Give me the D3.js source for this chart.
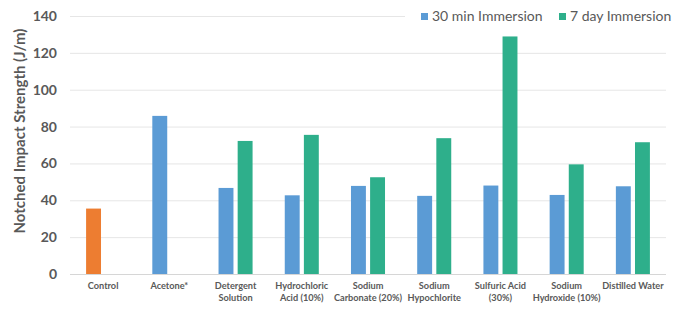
<!DOCTYPE html>
<html>
<head>
<meta charset="utf-8">
<script src="https://cdn.jsdelivr.net/npm/d3@7"></script>
<style>
  body { margin: 0; background: #fff; }
  svg { display: block; font-family: Lato, "Open Sans", sans-serif; }
</style>
</head>
<body>
<script>
var width = 687,
    height = 313,
    margin = {top: 16, right: 21, bottom: 39, left: 70};

// data
var categories = [
  ["Control"], ["Acetone*"], ["Detergent", "Solution"], ["Hydrochloric", "Acid (10%)"],
  ["Sodium", "Carbonate (20%)"], ["Sodium", "Hypochlorite"], ["Sulfuric Acid", "(30%)"],
  ["Sodium", "Hydroxide (10%)"], ["Distilled Water"]
];
var seriesNames = ["30 min Immersion", "7 day Immersion"];
var min30 = [35.5, 85.8, 46.7, 42.7, 47.8, 42.4, 48.0, 42.9, 47.6];
var day7 = [null, null, 72.2, 75.5, 52.5, 73.7, 128.9, 59.5, 71.5];
var yTicks = [0, 20, 40, 60, 80, 100, 120, 140];

var colors = ["#5B9BD5", "#2EAF8B"],
    controlColor = "#ED7D31";

var svg = d3.select("body").append("svg")
    .attr("width", width)
    .attr("height", height);

var keys = categories.map(function(c) { return c.join(" "); });

var x0 = d3.scaleBand()
    .domain(keys)
    .range([margin.left, width - margin.right])
    .paddingInner(0.486)
    .paddingOuter(0.243);

var x1 = d3.scaleBand()
    .domain(seriesNames)
    .range([0, x0.bandwidth()])
    .paddingInner(0.22);

var y = d3.scaleLinear()
    .domain([0, 140])
    .range([274, 16]);

// gridlines
svg.append("g").selectAll("line")
    .data(yTicks)
  .enter().append("line")
    .attr("x1", margin.left)
    .attr("x2", function(d) { return d === 140 ? 405 : width - margin.right; })
    .attr("y1", function(d) { return y(d) + 0.5; })
    .attr("y2", function(d) { return y(d) + 0.5; })
    .attr("stroke", function(d) { return d === 0 ? "#D6D6D6" : "#E6E6E6"; })
    .attr("stroke-width", 1);

// y tick labels
var yAxis = svg.append("g")
    .attr("transform", "translate(" + (margin.left - 13) + ",0)")
    .call(d3.axisLeft(y).tickValues(yTicks).tickSize(0).tickPadding(0));
yAxis.select(".domain").remove();
yAxis.selectAll("text")
    .attr("fill", "#595959")
    .style("font-size", "14px")
    .style("font-weight", "bold")
    .style("font-family", "Lato, sans-serif");

// y axis title
svg.append("text")
    .attr("transform", "translate(25," + 131 + ") rotate(-90)")
    .attr("text-anchor", "middle")
    .attr("fill", "#595959")
    .style("font-size", "15px")
    .style("font-weight", "bold")
    .text("Notched Impact Strength (J/m)");

// bars
var rows = keys.map(function(k, i) {
  return {key: k, values: [
    {series: seriesNames[0], value: min30[i], color: i === 0 ? controlColor : colors[0]},
    {series: seriesNames[1], value: day7[i], color: colors[1]}
  ]};
});

var groups = svg.append("g").selectAll("g")
    .data(rows)
  .enter().append("g")
    .attr("transform", function(d) { return "translate(" + x0(d.key) + ",0)"; });

groups.selectAll("rect")
    .data(function(d) { return d.values.filter(function(v) { return v.value != null; }); })
  .enter().append("rect")
    .attr("x", function(d) { return x1(d.series); })
    .attr("width", x1.bandwidth())
    .attr("y", function(d) { return y(d.value); })
    .attr("height", function(d) { return y(0) - y(d.value); })
    .attr("fill", function(d) { return d.color; });

// x labels
var xl = svg.append("g").selectAll("text")
    .data(categories)
  .enter().append("text")
    .attr("x", function(d, i) { return x0(keys[i]) + x0.bandwidth() / 2; })
    .attr("y", 289)
    .attr("text-anchor", "middle")
    .attr("fill", "#595959")
    .style("font-size", "9.2px")
    .style("font-weight", "bold");
xl.selectAll("tspan")
    .data(function(d) { return d; })
  .enter().append("tspan")
    .attr("x", function() { return d3.select(this.parentNode).attr("x"); })
    .attr("dy", function(d, i) { return i === 0 ? 0 : 12; })
    .text(function(d) { return d; });

// legend
var legendX = [421, 559];
var legend = svg.append("g").selectAll("g")
    .data(seriesNames)
  .enter().append("g")
    .attr("transform", function(d, i) { return "translate(" + legendX[i] + ",13)"; });
legend.append("rect")
    .attr("width", 7)
    .attr("height", 7)
    .attr("fill", function(d, i) { return colors[i]; });
legend.append("text")
    .attr("x", 11)
    .attr("y", 8)
    .attr("fill", "#595959")
    .style("font-size", "14px")
    .text(function(d) { return d; });
</script>
</body>
</html>
